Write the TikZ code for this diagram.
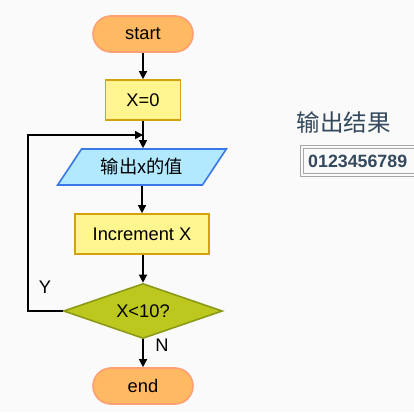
\documentclass[tikz,border=0pt]{standalone}
\usepackage{fontspec}
\setmainfont{Liberation Sans}
\newfontfamily\cjk{Noto Sans CJK SC}
\usetikzlibrary{arrows.meta,shapes.geometric}
\definecolor{termfill}{HTML}{FFB962}
\definecolor{termdraw}{HTML}{FFA074}
\definecolor{procfill}{HTML}{FFF68F}
\definecolor{procdraw}{HTML}{D4A20B}
\definecolor{iofill}{HTML}{B3E9FF}
\definecolor{iodraw}{HTML}{3A78E8}
\definecolor{decfill}{HTML}{BDC81E}
\definecolor{decdraw}{HTML}{8B9A16}
\definecolor{slate}{HTML}{34495E}
\tikzset{
  term/.style={draw=termdraw,fill=termfill,line width=1.6pt,rounded corners=18pt,
    minimum width=100pt,minimum height=36pt,inner sep=0pt},
  proc/.style={draw=procdraw,fill=procfill,line width=1.6pt,
    minimum height=40pt,inner sep=0pt},
  iobox/.style={draw=iodraw,fill=iofill,line width=1.6pt,trapezium,
    trapezium left angle=46,trapezium right angle=134,trapezium stretches=true,
    minimum width=169pt,minimum height=36pt,inner sep=0pt},
  decide/.style={draw=decdraw,fill=decfill,line width=1.6pt,diamond,aspect=2.9,
    minimum width=159pt,minimum height=55pt,inner sep=0pt},
  flow/.style={line width=1.3pt,-{Triangle[length=8pt,width=8pt]}},
  txt/.style={font=\fontsize{18.3}{21}\selectfont}
}
\begin{document}
\begin{tikzpicture}[x=1pt,y=-1pt]
\useasboundingbox[fill=black!2] (0,0) rectangle (414,412);
\node[term,txt] (start) at (143,34) {start};
\node[proc,txt,minimum width=75pt] (init) at (143,100) {X=0};
\node[iobox,txt] (show) at (142,167) {\cjk 输出x的值};
\node[proc,txt,minimum width=134pt] (inc) at (142,234) {Increment X};
\node[decide,txt] (test) at (143,311) {X<10?};
\node[term,txt] (end) at (143,386) {end};
\coordinate (loopL) at (28,135);
\coordinate (join) at (143,135);
\draw[flow] (start) -- (init);
\draw[flow] (init) -- (show.north -| init);
\draw[flow] (show.south -| inc) -- (inc);
\draw[flow] (inc.south -| test) -- (test);
\draw[flow] (test) -- (end);
\draw[flow] (test.west) -| (loopL) -- (join);
\node[txt] (yes) at (45,287) {Y};
\node[txt] (no) at (162,345) {N};
\node[font=\cjk\fontsize{23.5}{26}\selectfont,text=slate,anchor=west] (title) at (293,123) {输出结果};
\draw[black!35,line width=0.8pt] (300,145) rectangle (420,176);
\draw[black!35,line width=0.8pt] (303,148) rectangle (420,173);
\node[font=\bfseries\fontsize{17.8}{20}\selectfont,text=slate,anchor=west,inner sep=0pt] (result) at (308,161) {0123456789};
\end{tikzpicture}
\end{document}
